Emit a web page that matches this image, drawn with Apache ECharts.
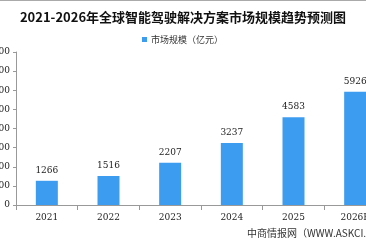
<!DOCTYPE html>
<html>
<head>
<meta charset="utf-8">
<script src="https://cdn.jsdelivr.net/npm/echarts@6/dist/echarts.min.js"></script>
<style>
html,body{margin:0;padding:0;background:#fff}
#echarts{width:366px;height:248px}
</style>
</head>
<body>
<div id="echarts"></div>
<script>
// 数据
var years = ['2021', '2022', '2023', '2024', '2025', '2026E']
var marketSize = [1266, 1516, 2207, 3237, 4583, 5926]
var seriesName = '市场规模（亿元）'
var titleText = '2021-2026年全球智能驾驶解决方案市场规模趋势预测图'
var sourceText = '中商情报网（WWW.ASKCI.COM）'

var chart = echarts.init(document.getElementById('echarts'))
var option = {
	animation: false,
	title: {
		text: titleText,
		left: 'center',
		top: 6,
		textStyle: {
			fontFamily: 'Noto Sans CJK SC',
			fontSize: 13,
			fontWeight: 'bold',
			color: '#111'
		}
	},
	legend: {
		data: [seriesName],
		top: 35,
		left: 142,
		padding: 0,
		itemWidth: 5,
		itemHeight: 5,
		itemGap: 4,
		icon: 'rect',
		textStyle: {fontSize: 9, color: '#333', fontFamily: 'Noto Sans CJK SC', padding: [0, 0, 0, -1]}
	},
	grid: {
		left: 16,
		top: 52,
		bottom: 43,
		width: 370,
		containLabel: false,
		outerBoundsMode: 'none'
	},
	xAxis: {
		type: 'category',
		data: years,
		axisLine: {lineStyle: {color: '#999'}},
		axisTick: {show: true, length: 5, lineStyle: {color: '#999'}},
		axisLabel: {color: '#222', fontSize: 9, margin: 8, fontFamily: 'DejaVu Serif'}
	},
	yAxis: {
		type: 'value',
		min: 0,
		max: 8000,
		interval: 1000,
		splitLine: {show: false},
		axisLine: {show: true, lineStyle: {color: '#999'}},
		axisTick: {show: true, length: 3, lineStyle: {color: '#999'}},
		axisLabel: {
			color: '#222', fontSize: 9, margin: 6, fontFamily: 'DejaVu Serif',
			formatter: function (v) { return String(v) }
		}
	},
	series: [{
		name: seriesName,
		type: 'bar',
		data: marketSize,
		barWidth: 22,
		itemStyle: {color: '#3c9cf0'},
		label: {
			show: true,
			position: 'top',
			distance: 6,
			color: '#222',
			fontSize: 9,
			fontFamily: 'DejaVu Serif'
		}
	}],
	graphic: [{
		type: 'rect',
		shape: {x: 0, y: 0, width: 366, height: 1},
		style: {fill: '#aaa'}
	}, {
		type: 'text',
		left: 247,
		top: 228,
		style: {
			text: sourceText,
			fontSize: 10,
			fill: '#333',
			fontFamily: 'Noto Sans CJK SC'
		}
	}]
}
chart.setOption(option)
</script>
</body>
</html>
